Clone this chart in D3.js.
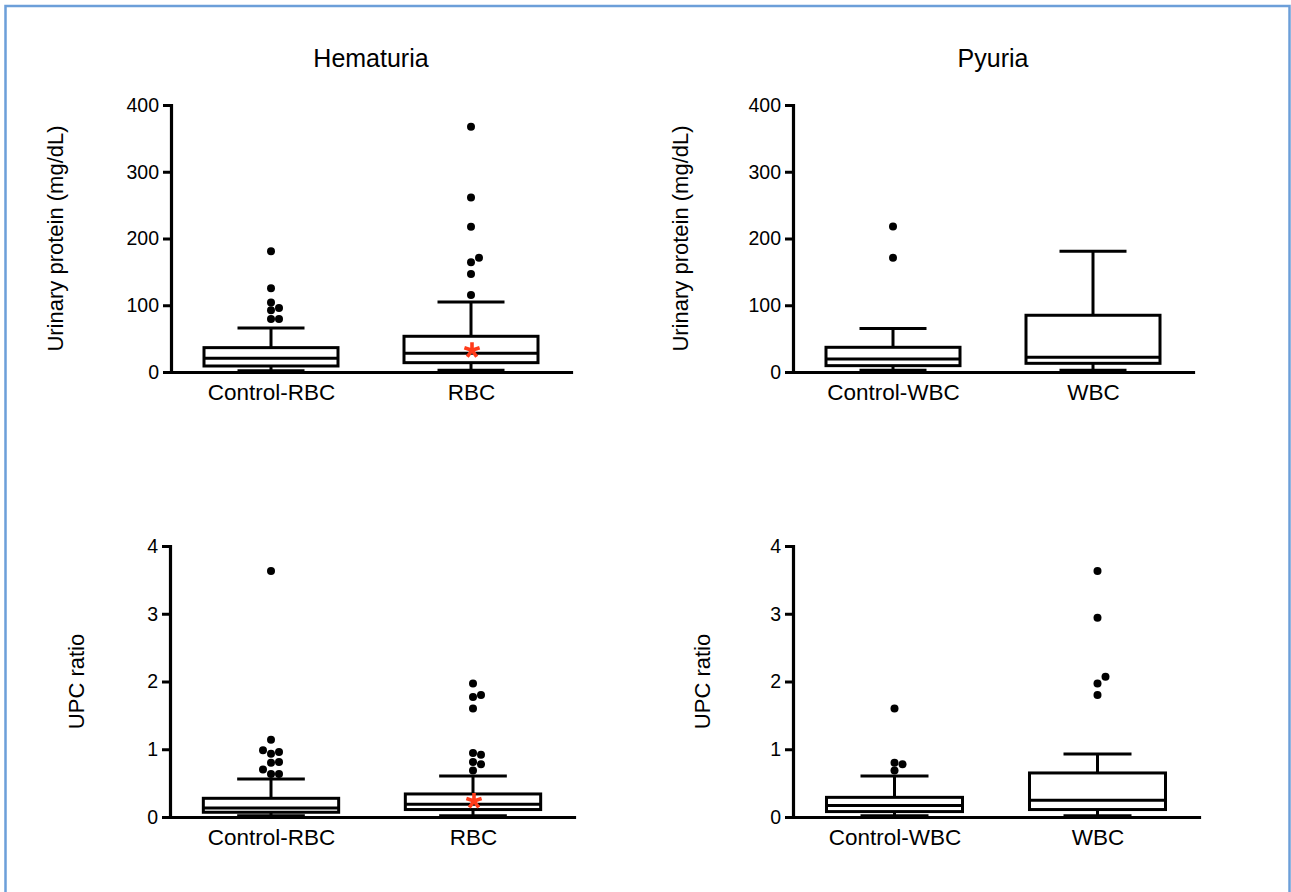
<!DOCTYPE html>
<html>
<head>
<meta charset="utf-8">
<script src="https://cdn.jsdelivr.net/npm/d3@7"></script>
<style>
  html, body { margin: 0; padding: 0; background: #fff; }
  svg { display: block; font-family: "Liberation Sans", Arial, sans-serif; }
</style>
</head>
<body>
<svg id="chart" width="1291" height="892"></svg>
<script>
// ---------- DATA ----------
const panelTitles = ["Hematuria", "Pyuria"];
const hemCats = ["Control-RBC", "RBC"];
const pyuCats = ["Control-WBC", "WBC"];
const proteinLabel = "Urinary protein (mg/dL)";
const upcLabel = "UPC ratio";
const proteinTicks = [0, 100, 200, 300, 400];
const upcTicks = [0, 1, 2, 3, 4];

// box stats: [lower whisker, Q1, median, Q3, upper whisker]
const hemProteinStats = [[2, 9, 20.5, 36.5, 66], [2.5, 14, 28, 53.5, 105]];
const hemProteinOutliers = [[79.5, 79.5, 92.5, 96, 104, 125.5, 181],
                            [115.5, 147, 164.5, 171, 217.5, 261.5, 367.5]];
const hemProteinMeans = [null, 32.5];

const pyuProteinStats = [[2.5, 9.5, 19.5, 37, 65], [2.5, 13, 22, 85, 181]];
const pyuProteinOutliers = [[171, 218], []];
const pyuProteinMeans = [null, null];

const hemUpcStats = [[0.02, 0.07, 0.133, 0.276, 0.56], [0.02, 0.11, 0.19, 0.34, 0.605]];
const hemUpcOutliers = [[0.635, 0.635, 0.70, 0.80, 0.81, 0.935, 0.96, 0.985, 1.14, 3.63],
                        [0.685, 0.78, 0.81, 0.92, 0.945, 1.60, 1.77, 1.80, 1.97]];
const hemUpcMeans = [null, 0.236];

const pyuUpcStats = [[0.02, 0.08, 0.17, 0.29, 0.605], [0.02, 0.11, 0.246, 0.65, 0.93]];
const pyuUpcOutliers = [[0.685, 0.78, 0.80, 1.60], [1.80, 1.97, 2.07, 2.94, 3.63]];
const pyuUpcMeans = [null, null];

// ---------- LAYOUT ----------
const svg = d3.select("#chart");

// frame
svg.append("rect")
  .attr("x", 5.5).attr("y", 6).attr("width", 1284).attr("height", 900)
  .attr("fill", "none").attr("stroke", "#6c9fd9").attr("stroke-width", 2.5);

const panels = [
  {cats: hemCats, stats: hemProteinStats, outliers: hemProteinOutliers, means: hemProteinMeans,
   ticks: proteinTicks, label: proteinLabel, x0: 171, x1: 571, yTop: 105, yBot: 372, labelOff: 108, title: panelTitles[0]},
  {cats: pyuCats, stats: pyuProteinStats, outliers: pyuProteinOutliers, means: pyuProteinMeans,
   ticks: proteinTicks, label: proteinLabel, x0: 793, x1: 1193, yTop: 105, yBot: 372, labelOff: 105, title: panelTitles[1]},
  {cats: hemCats, stats: hemUpcStats, outliers: hemUpcOutliers, means: hemUpcMeans,
   ticks: upcTicks, label: upcLabel, x0: 170, x1: 574, yTop: 546, yBot: 817, labelOff: 86},
  {cats: pyuCats, stats: pyuUpcStats, outliers: pyuUpcOutliers, means: pyuUpcMeans,
   ticks: upcTicks, label: upcLabel, x0: 793, x1: 1199, yTop: 546, yBot: 817, labelOff: 83}
];

const LW = 3;
const dotR = 4;
const slot = 8;
const FONT = '"Liberation Sans", Arial, sans-serif';

panels.forEach(p => {
  const g = svg.append("g");
  const x = d3.scalePoint().domain(p.cats).range([p.x0, p.x1]).padding(0.5);
  const y = d3.scaleLinear().domain([d3.min(p.ticks), d3.max(p.ticks)]).range([p.yBot, p.yTop]);
  const boxW = x.step() * 0.67;
  const capW = boxW / 2;

  // title
  if (p.title) {
    g.append("text").attr("x", (p.x0 + p.x1) / 2).attr("y", 67)
      .attr("text-anchor", "middle").attr("font-size", 25).attr("fill", "#000").text(p.title);
  }

  // boxes
  p.cats.forEach((c, i) => {
    const [lo, q1, med, q3, hi] = p.stats[i];
    const cx = x(c);
    const bg = g.append("g").attr("stroke", "#000").attr("stroke-width", LW).attr("fill", "none");
    // whiskers
    bg.append("line").attr("x1", cx).attr("x2", cx).attr("y1", y(q3)).attr("y2", y(hi));
    bg.append("line").attr("x1", cx - capW / 2).attr("x2", cx + capW / 2).attr("y1", y(hi)).attr("y2", y(hi));
    bg.append("line").attr("x1", cx).attr("x2", cx).attr("y1", y(q1)).attr("y2", y(lo));
    bg.append("line").attr("x1", cx - capW / 2).attr("x2", cx + capW / 2).attr("y1", y(lo)).attr("y2", y(lo));
    // box
    bg.append("rect").attr("x", cx - boxW / 2).attr("y", y(q3)).attr("width", boxW)
      .attr("height", y(q1) - y(q3)).attr("fill", "#fff");
    bg.append("line").attr("x1", cx - boxW / 2).attr("x2", cx + boxW / 2).attr("y1", y(med)).attr("y2", y(med));

    // outliers: simple beeswarm
    const placed = [];
    const vals = p.outliers[i].slice().sort((a, b) => a - b);
    const order = [0, 1, -1, 2, -2];
    vals.forEach(v => {
      const py = y(v);
      let off = 0;
      for (const k of order) {
        const px = cx + k * slot;
        const ok = placed.every(q => Math.hypot(q.x - px, q.y - py) >= 2 * 3.7 + 0.2);
        if (ok) { off = k; break; }
      }
      placed.push({x: cx + off * slot, y: py});
    });
    g.selectAll(null).data(placed).join("circle")
      .attr("cx", d => d.x).attr("cy", d => d.y).attr("r", dotR).attr("fill", "#000");

    // mean asterisk
    if (p.means[i] != null) {
      const my = y(p.means[i]);
      const arm = 8;
      let path = "";
      for (let k = 0; k < 5; k++) {
        const a = (-90 + 72 * k) * Math.PI / 180;
        path += `M${cx + 1},${my}L${cx + 1 + arm * Math.cos(a)},${my + arm * Math.sin(a)}`;
      }
      g.append("path").attr("d", path).attr("stroke", "#ff3b1a").attr("stroke-width", 3.6)
        .attr("stroke-linecap", "butt").attr("fill", "none");
    }
  });

  // y axis
  const ya = g.append("g").attr("transform", `translate(${p.x0},0)`)
    .call(d3.axisLeft(y).tickValues(p.ticks).tickFormat(d3.format("d"))
      .tickSize(8).tickSizeOuter(0).tickPadding(4));
  ya.select(".domain").attr("stroke-width", 3.2).attr("stroke-linecap", "square");
  ya.selectAll(".tick line").attr("stroke-width", 3);
  ya.selectAll("text").attr("font-size", 19.5).attr("fill", "#000").style("font-family", FONT);

  // x axis
  const xa = g.append("g").attr("transform", `translate(0,${p.yBot})`)
    .call(d3.axisBottom(x).tickSize(0).tickSizeOuter(0).tickPadding(12));
  xa.select(".domain").attr("stroke-width", 3.2).attr("stroke-linecap", "square");
  xa.selectAll("text").attr("font-size", 22.5).attr("fill", "#000").style("font-family", FONT);

  // y axis title
  g.append("text")
    .attr("transform", `translate(${p.x0 - p.labelOff},${(p.yTop + p.yBot) / 2}) rotate(-90)`)
    .attr("text-anchor", "middle").attr("font-size", 22).attr("fill", "#000").text(p.label);
});
</script>
</body>
</html>
